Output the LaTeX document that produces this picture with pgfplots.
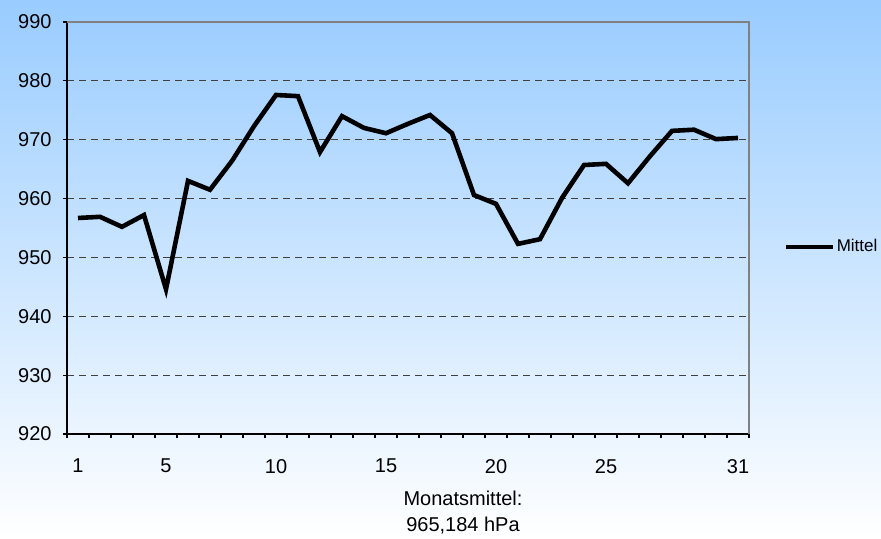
\documentclass[border=0pt]{standalone}
\usepackage{pgfplots}
\pgfplotsset{compat=1.18}
\usepackage{fontspec}
\setmainfont{Liberation Sans}
\definecolor{sky}{RGB}{153,204,255}
\definecolor{frame}{RGB}{128,128,128}
\begin{document}
\begin{tikzpicture}
  % 1px of the reference = 0.5pt
  \useasboundingbox (0,0) rectangle (440.5pt,269.5pt);
  \shade[top color=sky, bottom color=white] (0,0) rectangle (440.5pt,269.5pt);
  \begin{axis}[
      at={(33.5pt,52.5pt)}, anchor=south west,
      scale only axis,
      width=341pt, height=206pt,
      xmin=0.5, xmax=31.5,
      ymin=920, ymax=990,
      axis x line*=bottom,
      axis y line*=left,
      axis line style={black, line width=0.75pt},
      tick align=outside,
      major tick length=2.2pt,
      tick style={black, line width=0.6pt},
      xtick={0.5,1.5,...,31.5},
      xticklabels={},
      extra x ticks={1,5,10,15,20,25,31},
      extra x tick style={major tick length=0pt,
        xticklabel style={yshift=-9pt}},
      ytick={920,930,...,990},
      yticklabel style={xshift=-2pt},
      ymajorgrids,
      grid style={dash pattern=on 3.5pt off 2.5pt, black!75, line width=0.5pt},
      ticklabel style={font=\fontsize{10}{12}\selectfont},
      /pgf/number format/assume math mode=true,
      legend style={draw=none, fill=none, inner sep=0pt,
        at={(axis description cs:1.051,0.454)}, anchor=west,
        font=\fontsize{8.5}{10}\selectfont,
        nodes={inner sep=0.5pt}},
      legend image code/.code={\draw[#1] (0pt,0pt) -- (23.5pt,0pt);},
      after end axis/.code={
        \draw[frame, line width=1pt] (rel axis cs:0,1) -- (rel axis cs:1,1) -- (rel axis cs:1,0);
      },
    ]
    \addplot[black, line width=2.3pt] coordinates {
      (1, 956.7) (2, 956.9) (3, 955.2) (4, 957.2) (5, 944.6)
      (6, 963.0) (7, 961.5) (8, 966.4) (9, 972.3) (10, 977.6)
      (11, 977.4) (12, 967.9) (13, 974.0) (14, 972.0) (15, 971.1)
      (16, 972.7) (17, 974.2) (18, 971.1) (19, 960.6) (20, 959.1)
      (21, 952.3) (22, 953.1) (23, 960.1) (24, 965.7) (25, 965.9)
      (26, 962.6) (27, 967.2) (28, 971.5) (29, 971.7) (30, 970.1)
      (31, 970.3)};
    \addlegendentry{Mittel}
  \end{axis}
  \node[align=center, font=\fontsize{10}{13}\selectfont] at (231.5pt,13pt)
    {Monatsmittel:\\965,184 hPa};
\end{tikzpicture}
\end{document}
